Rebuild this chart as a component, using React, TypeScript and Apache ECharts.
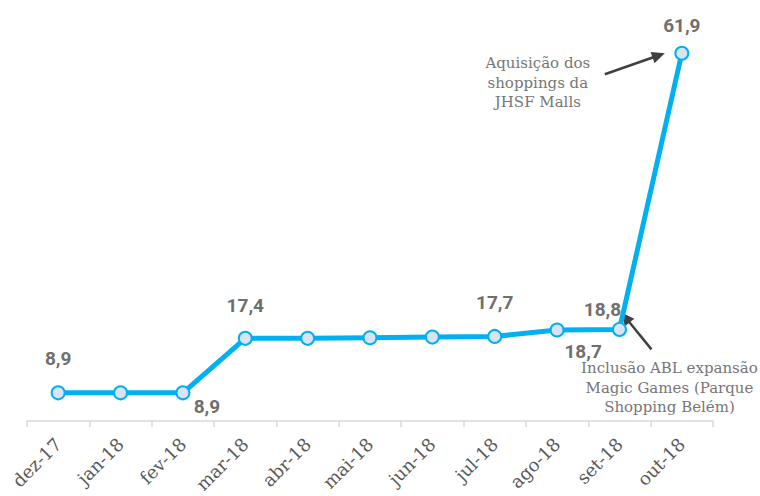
import React, { useEffect, useRef } from "react";
import * as echarts from "echarts";

const categories = ["dez-17", "jan-18", "fev-18", "mar-18", "abr-18", "mai-18", "jun-18", "jul-18", "ago-18", "set-18", "out-18"];
const values = [8.9, 8.9, 8.9, 17.4, 17.4, 17.5, 17.6, 17.7, 18.7, 18.8, 61.9];
const labelledIndices = [0, 2, 3, 7, 8, 9, 10];
const annotationTop = "Aquisição dos\nshoppings da\nJHSF Malls";
const annotationBottom = "Inclusão ABL expansão\nMagic Games (Parque\nShopping Belém)";

const labelOffsets: Record<number, [string, number[]]> = {
  0: ["top", [0, -12]],
  2: ["bottom", [24, -8]],
  3: ["top", [0, -11]],
  7: ["top", [0, -12]],
  8: ["bottom", [26, -1]],
  9: ["top", [-17, 2]],
  10: ["top", [0, -6]],
};

const SERIF = "'DejaVu Serif', serif";
const SANS = "Roboto, 'Noto Sans', sans-serif";

function arrow(from: number[], to: number[]) {
  const dx = to[0] - from[0];
  const dy = to[1] - from[1];
  const len = Math.sqrt(dx * dx + dy * dy);
  const ux = dx / len, uy = dy / len;
  const nx = -uy, ny = ux;
  const L = 13, W = 6;
  const bx = to[0] - ux * L, by = to[1] - uy * L;
  return [
    {
      type: "line",
      shape: { x1: from[0], y1: from[1], x2: to[0] - ux * L * 0.7, y2: to[1] - uy * L * 0.7 },
      style: { stroke: "#404040", lineWidth: 2.5 },
    },
    {
      type: "polygon",
      shape: { points: [[to[0], to[1]], [bx + nx * W, by + ny * W], [bx - nx * W, by - ny * W]] },
      style: { fill: "#404040" },
    },
  ];
}

export default function App() {
  const ref = useRef<HTMLDivElement>(null);
  useEffect(() => {
    document.body.style.margin = "0";
    if (!ref.current) return;
    const chart = echarts.init(ref.current, null, { renderer: "svg" });
    chart.setOption({
      animation: false,
      backgroundColor: "#ffffff",
      grid: { left: 27, right: 47, top: 27, bottom: 75, containLabel: false },
      xAxis: {
        type: "category",
        data: categories,
        boundaryGap: true,
        axisLine: { lineStyle: { color: "#d9d9d9", width: 1.5 } },
        axisTick: { show: true, length: 6, lineStyle: { color: "#d9d9d9", width: 1.5 } },
        axisLabel: { rotate: 45, color: "#595959", fontFamily: SERIF, fontSize: 18, margin: 20, interval: 0 },
        splitLine: { show: false },
      },
      yAxis: {
        type: "value",
        min: 4.5,
        max: 66,
        show: false,
        splitLine: { show: false },
      },
      series: [
        {
          type: "line",
          data: values.map((v, i) => {
            const cfg = labelOffsets[i];
            const shown = labelledIndices.includes(i);
            return {
              value: v,
              label: shown
                ? {
                    show: true,
                    position: cfg[0],
                    offset: cfg[1],
                    formatter: () => v.toFixed(1).replace(".", ","),
                  }
                : { show: false },
            };
          }),
          symbol: "circle",
          symbolSize: 13,
          lineStyle: { color: "#00b0f0", width: 5 },
          itemStyle: { color: "#dae3f3", borderColor: "#00b0f0", borderWidth: 2 },
          label: { fontFamily: SANS, fontWeight: "bold", fontSize: 19, color: "#6f6f6f" },
          z: 3,
        },
      ],
    });

    const pOut = chart.convertToPixel({ seriesIndex: 0 }, [10, values[10]]) as number[];
    const pSet = chart.convertToPixel({ seriesIndex: 0 }, [9, values[9]]) as number[];

    chart.setOption({
      graphic: [
        {
          type: "text",
          x: pOut[0] - 144,
          y: pOut[1] + 0,
          style: {
            text: annotationTop,
            fill: "#767676",
            font: `15px ${SERIF}`,
            align: "center",
            verticalAlign: "top",
            lineHeight: 19.5,
          },
        },
        ...arrow([pOut[0] - 77, pOut[1] + 21], [pOut[0] - 17, pOut[1] + 0]),
        {
          type: "text",
          x: pSet[0] + 50,
          y: pSet[1] + 29,
          style: {
            text: annotationBottom,
            fill: "#767676",
            font: `15px ${SERIF}`,
            align: "center",
            verticalAlign: "top",
            lineHeight: 19.5,
          },
        },
        ...arrow([pSet[0] + 32, pSet[1] + 20], [pSet[0] + 2, pSet[1] - 17]),
      ],
    });

    return () => chart.dispose();
  }, []);
  return <div ref={ref} style={{ width: 760, height: 496 }} />;
}
